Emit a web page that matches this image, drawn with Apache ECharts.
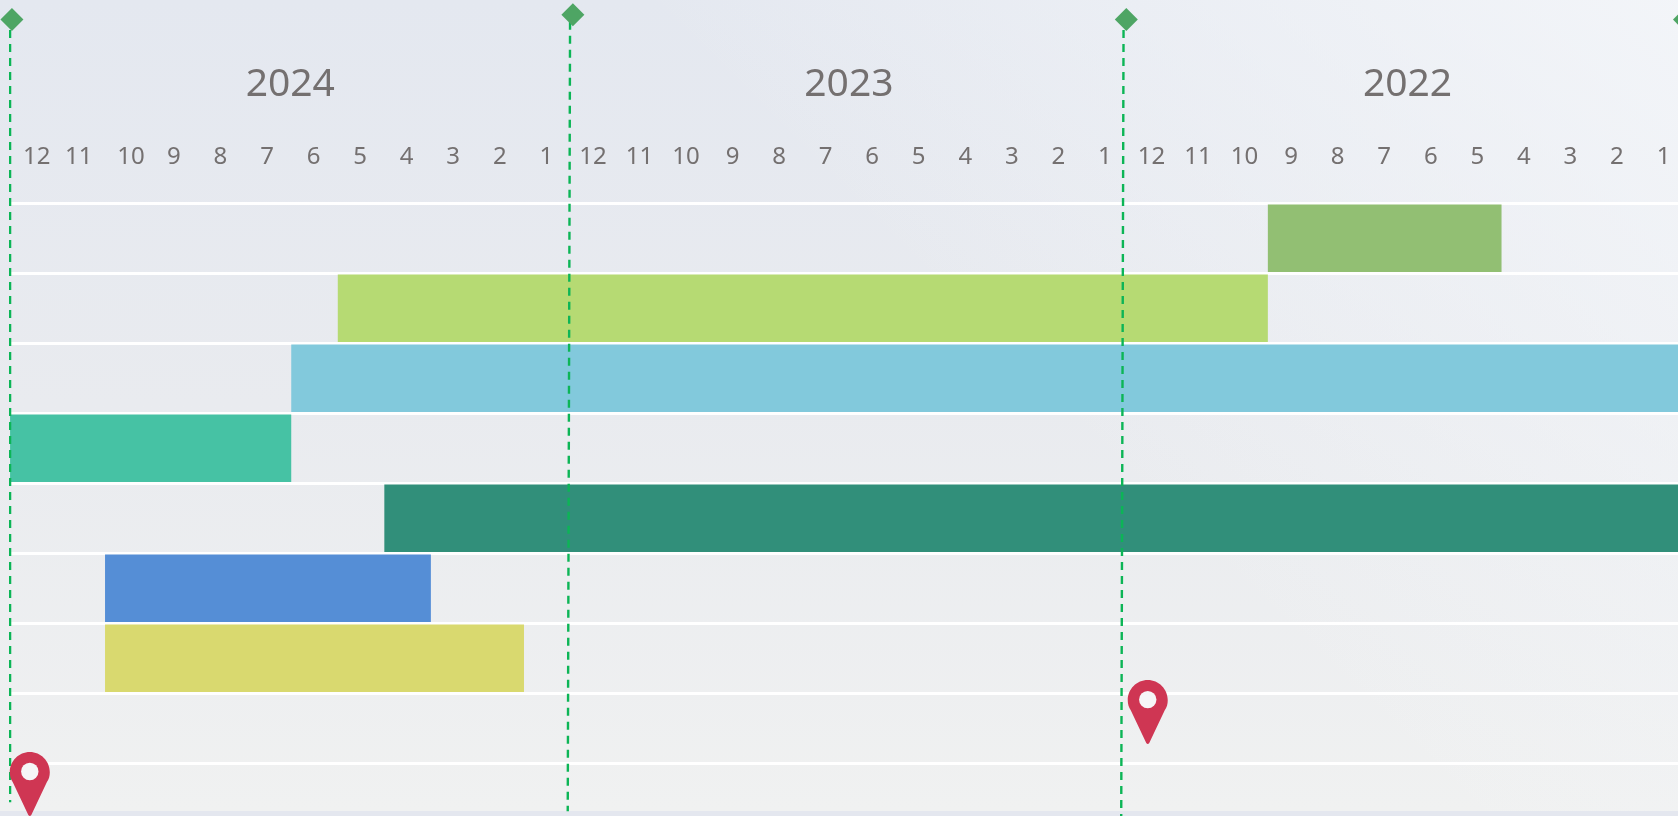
<!DOCTYPE html>
<html lang="en">

<head>
    <meta charset="UTF-8">
    <script src="https://cdn.jsdelivr.net/npm/echarts@6/dist/echarts.min.js"></script>
    <title>Timeline</title>
    <style>
        html, body { margin: 0; padding: 0; overflow: hidden; background: #e4e7ef; }
        #chart {
            width: 1678px;
            height: 816px;
            background-repeat: no-repeat;
            background-size: 100% 811px;
            background-image:
                linear-gradient(225deg, rgba(245, 247, 250, 0.85) 0%, rgba(245, 247, 250, 0) 42%),
                linear-gradient(180deg, #e4e8f0 0%, #e9ebef 50%, #f0f1f1 100%);
        }
    </style>
</head>

<body>
    <div id="chart"></div>

    <script type="text/javascript">
        // x is counted in months from the left edge, y in rows from the top line
        var yearLabels = ['2024', '2023', '2022'];
        var monthLabels = [
            '12', '11', '10', '9', '8', '7', '6', '5', '4', '3', '2', '1',
            '12', '11', '10', '9', '8', '7', '6', '5', '4', '3', '2', '1',
            '12', '11', '10', '9', '8', '7', '6', '5', '4', '3', '2', '1'
        ];

        var barRows = [0, 1, 2, 3, 4, 5, 6];
        var barStarts = [27, 7.02, 6.02, -0.02, 8.02, 2.02, 2.02];
        var barEnds = [32.02, 27, 36, 6.02, 36, 9.02, 11.02];
        var barColors = ['#92bf73', '#b6da73', '#82c9dc', '#46c2a4', '#318f7a', '#558ed6', '#d9d96f'];

        // the dashed lines lean a little in the original
        var line1 = [[-0.02, -2.47], [-0.02, 8.56]];
        var line2 = [[12.01, -2.59], [11.96, 8.69]];
        var line3 = [[23.9, -2.47], [23.85, 8.76]];
        var diamonds = [[0.02, -2.62], [12.07, -2.69], [23.96, -2.62], [35.95, -2.62]];
        var pins = [[0.404, 8.757], [24.42, 7.73]];

        var barData = barRows.map(function (row, i) {
            return [row, barStarts[i], barEnds[i]];
        });

        var pinPath = 'path://M20 0C31 0 40 9 40 20C40 24 39 27 37 30L21.5 62.5Q20 64.5 18.5 62.5L3 30C1 27 0 24 0 20C0 9 9 0 20 0Z';

        // the first three month labels sit a few pixels off their bands in the original
        var monthData = monthLabels.map(function (label, i) {
            if (i == 0) return { value: label, textStyle: { padding: [0, 0, 0, 5] } };
            if (i == 1) return { value: label, textStyle: { padding: [0, 4, 0, 0] } };
            if (i == 2) return { value: label, textStyle: { padding: [0, 0, 0, 7] } };
            return label;
        });

        function dashed(data) {
            return {
                type: 'line',
                data: data,
                symbol: 'none',
                clip: false,
                silent: true,
                z: 5,
                lineStyle: { color: '#0cb556', width: 2.4, type: [8, 6] }
            };
        }

        var chart = echarts.init(document.getElementById('chart'));

        var option = {
            animation: false,
            // the plot runs past the window on the right and at the bottom
            grid: { left: 11, top: 203, width: 1675.8, height: 630, outerBoundsMode: 'none' },
            xAxis: [
                {
                    type: 'value',
                    min: 0,
                    max: 36,
                    show: false
                },
                {
                    type: 'category',
                    data: monthData,
                    position: 'top',
                    axisLine: { show: false },
                    axisTick: { show: false },
                    axisLabel: {
                        interval: 0,
                        margin: 34,
                        color: '#747070',
                        fontFamily: 'Noto Sans',
                        fontSize: 24
                    }
                },
                {
                    type: 'category',
                    data: yearLabels,
                    position: 'top',
                    axisLine: { show: false },
                    axisTick: { show: false },
                    axisLabel: {
                        interval: 0,
                        margin: 99,
                        color: '#747070',
                        fontFamily: 'Noto Sans',
                        fontSize: 39
                    }
                }
            ],
            yAxis: {
                type: 'value',
                inverse: true,
                min: 0,
                max: 9,
                interval: 1,
                axisLine: { show: false },
                axisTick: { show: false },
                axisLabel: { show: false },
                splitLine: { lineStyle: { color: '#ffffff', width: 3 } }
            },
            series: [
                {
                    type: 'custom',
                    xAxisIndex: 0,
                    data: barData,
                    encode: { x: [1, 2], y: 0 },
                    renderItem: function (params, api) {
                        var from = api.coord([api.value(1), api.value(0)]);
                        var to = api.coord([api.value(2), api.value(0)]);
                        var h = api.size([0, 1])[1];
                        return {
                            type: 'rect',
                            shape: { x: from[0], y: from[1] + 1.5, width: to[0] - from[0], height: h - 2.5 },
                            style: { fill: barColors[params.dataIndex] }
                        };
                    }
                },
                dashed(line1),
                dashed(line2),
                dashed(line3),
                {
                    type: 'scatter',
                    data: diamonds,
                    clip: false,
                    symbol: 'diamond',
                    symbolSize: 23,
                    itemStyle: { color: '#4ea564', opacity: 1 },
                    z: 6
                },
                {
                    type: 'scatter',
                    data: pins,
                    clip: false,
                    symbol: pinPath,
                    symbolSize: [40, 64],
                    symbolOffset: [0, '-50%'],
                    itemStyle: { color: '#cf3653', opacity: 1 },
                    z: 7
                },
                {
                    type: 'scatter',
                    data: pins,
                    clip: false,
                    symbol: 'circle',
                    symbolSize: 17.4,
                    symbolOffset: [0, -44.5],
                    itemStyle: { color: '#f6f6f7', opacity: 1 },
                    z: 8
                }
            ]
        };
        chart.setOption(option);
    </script>
</body>

</html>
